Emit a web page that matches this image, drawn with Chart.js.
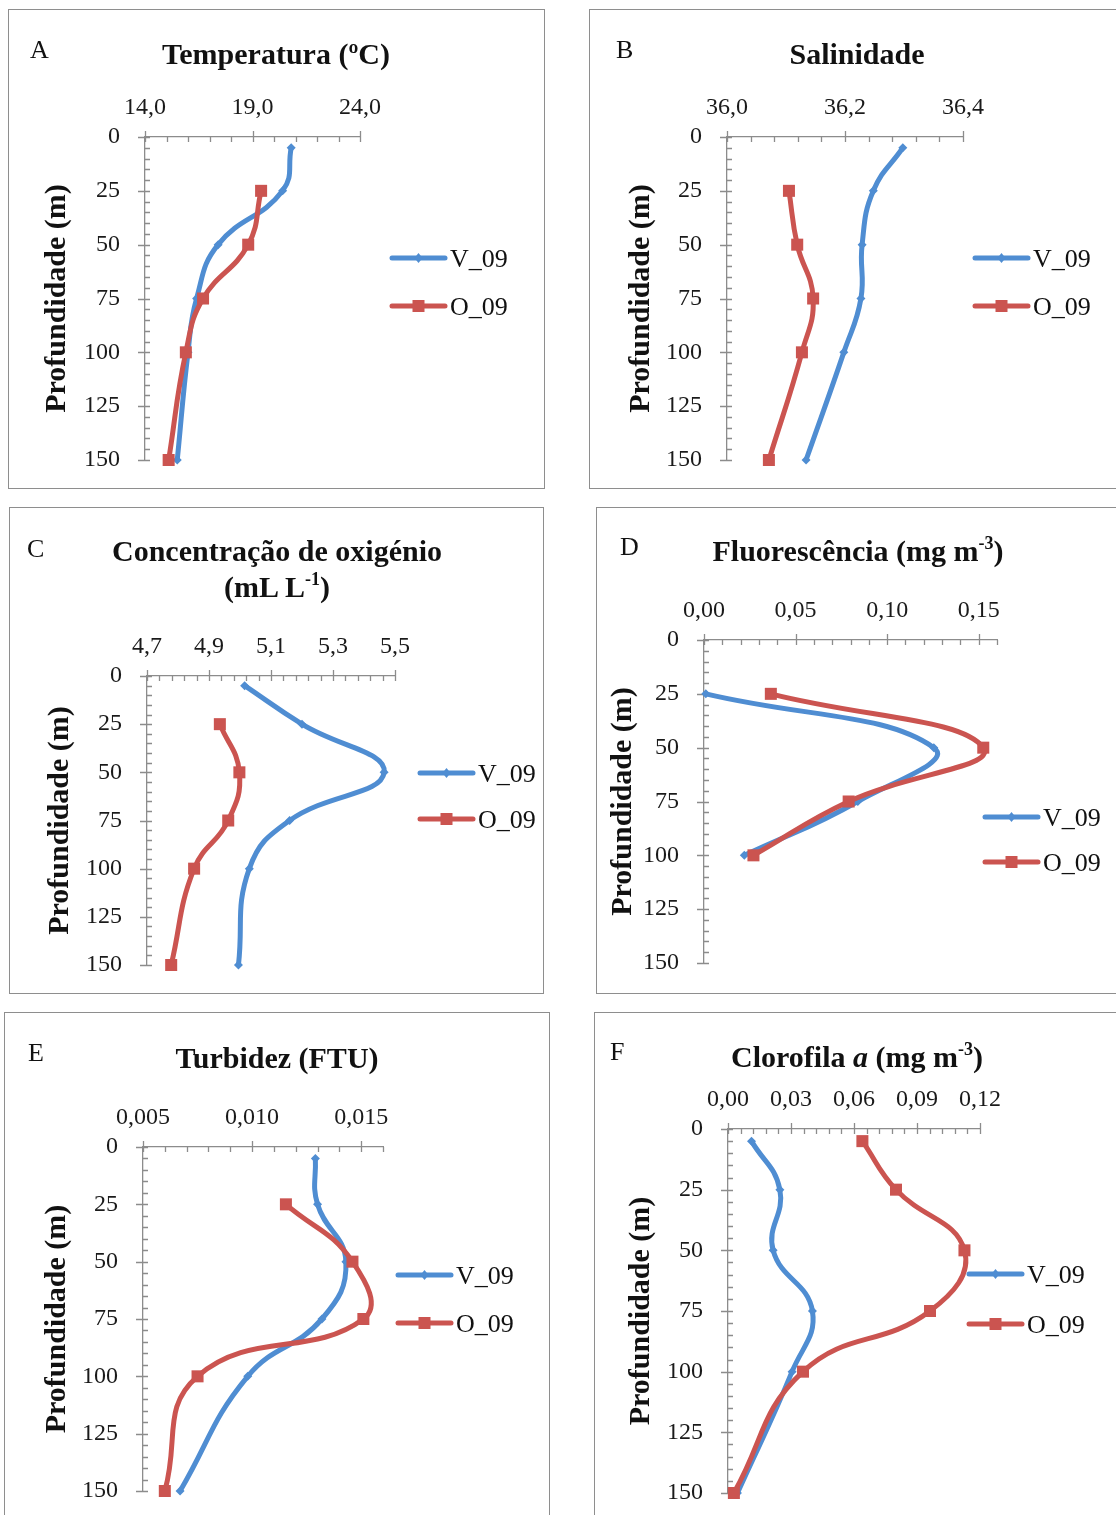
<!DOCTYPE html>
<html>
<head>
<meta charset="utf-8">
<script src="https://cdn.jsdelivr.net/npm/chart.js@4.4.1/dist/chart.umd.min.js"></script>
<style>
    html, body { margin: 0; padding: 0; background: #fff; }
    body { position: relative; width: 1116px; height: 1515px; overflow: hidden; font-family: 'Liberation Serif', 'Times New Roman', serif; color: #111; }
    .panel { position: absolute; border: 1px solid #8e8e8e; box-sizing: border-box; }
    canvas { position: absolute; }
    .letter { position: absolute; font-size: 26px; line-height: 1; transform: translateY(-50%); }
    .title { position: absolute; font-size: 30px; font-weight: bold; line-height: 36px; text-align: center; white-space: nowrap; transform: translate(-50%, -50%); }
    .title sup { font-size: 60%; vertical-align: 0; position: relative; top: -0.65em; }
</style>
</head>
<body>
<script>
// Series names and depths (m)
const seriesNames = ['V_09', 'O_09'];
const depthV = [5, 25, 50, 75, 100, 150];
const depthO = [25, 50, 75, 100, 150];
const depthFluo = [25, 50, 75, 100];
const depthChl = [5, 25, 50, 75, 100, 150];
const depthTicks = [0, 25, 50, 75, 100, 125, 150];

// A - Temperatura
const tempV = [20.8, 20.4, 17.4, 16.4, 16.0, 15.5];
const tempO = [19.4, 18.8, 16.7, 15.9, 15.1];
const tempTicks = [14, 19, 24];

// B - Salinidade
const salV = [36.298, 36.248, 36.229, 36.227, 36.198, 36.134];
const salO = [36.105, 36.119, 36.146, 36.127, 36.071];
const salTicks = [36.0, 36.2, 36.4];

// C - Oxigénio
const oxyV = [5.015, 5.20, 5.465, 5.16, 5.03, 4.995];
const oxyO = [4.935, 4.998, 4.962, 4.852, 4.778];
const oxyTicks = [4.7, 4.9, 5.1, 5.3, 5.5];

// D - Fluorescência
const fluoV = [0.001, 0.1255, 0.084, 0.022];
const fluoO = [0.0365, 0.1525, 0.079, 0.027];
const fluoTicks = [0, 0.05, 0.10, 0.15];

// E - Turbidez
const turbV = [0.0129, 0.0130, 0.0143, 0.0132, 0.0098, 0.0067];
const turbO = [0.01155, 0.0146, 0.0151, 0.0075, 0.0060];
const turbTicks = [0.005, 0.010, 0.015];

// F - Clorofila a
const chlV = [0.0112, 0.0247, 0.0215, 0.0402, 0.0305, 0.0045];
const chlO = [0.0640, 0.0800, 0.1126, 0.0962, 0.0357, 0.0028];
const chlTicks = [0, 0.03, 0.06, 0.09, 0.12];

const BLUE = '#4f8dd2';
const RED = '#cb5450';
const AXIS = '#8c8c8c';
const FONT = "'Liberation Serif', 'Times New Roman', serif";
const BOTTOM_PAD = 46; // room under the plot so the chart area ends exactly at 150 m

const panels = [
    { letter: 'A', title: 'Temperatura (ºC)', box: [8, 9, 537, 480], plot: [145, 137, 360, 460],
      letterAt: [30, 50], titleAt: [276, 54], yTitleX: 57, legend: [392, 258, 48],
      v: tempV, o: tempO, dv: depthV, dO: depthO, ticks: tempTicks, min: 14, max: 24, minor: 1, dec: 1 },
    { letter: 'B', title: 'Salinidade', box: [589, 9, 540, 480], plot: [727, 137, 963, 460],
      letterAt: [616, 50], titleAt: [857, 54], yTitleX: 641, legend: [975, 258, 48],
      v: salV, o: salO, dv: depthV, dO: depthO, ticks: salTicks, min: 36.0, max: 36.4, minor: 0.04, dec: 1 },
    { letter: 'C', title: 'Concentração de oxigénio<br>(mL L<sup>-1</sup>)', box: [9, 507, 535, 487], plot: [147, 676, 395, 965],
      letterAt: [27, 549], titleAt: [277, 571], yTitleX: 60, legend: [420, 773, 46],
      v: oxyV, o: oxyO, dv: depthV, dO: depthO, ticks: oxyTicks, min: 4.7, max: 5.5, minor: 0.04, dec: 1 },
    { letter: 'D', title: 'Fluorescência (mg m<sup>-3</sup>)', box: [596, 507, 530, 487], plot: [704, 640, 997, 963],
      letterAt: [620, 547], titleAt: [858, 553], yTitleX: 623, legend: [985, 817, 45],
      v: fluoV, o: fluoO, dv: depthFluo, dO: depthFluo, ticks: fluoTicks, min: 0, max: 0.16, minor: 0.01, dec: 2 },
    { letter: 'E', title: 'Turbidez (FTU)', box: [4, 1012, 546, 514], plot: [143, 1147, 383, 1491],
      letterAt: [28, 1053], titleAt: [277, 1058], yTitleX: 57, legend: [398, 1275, 48],
      v: turbV, o: turbO, dv: depthV, dO: depthO, ticks: turbTicks, min: 0.005, max: 0.016, minor: 0.001, dec: 3 },
    { letter: 'F', title: 'Clorofila <i>a</i> (mg m<sup>-3</sup>)', box: [594, 1012, 530, 514], plot: [728, 1129, 980, 1493],
      letterAt: [610, 1052], titleAt: [857, 1059], yTitleX: 641, legend: [969, 1274, 50],
      v: chlV, o: chlO, dv: depthChl, dO: depthChl, ticks: chlTicks, min: 0, max: 0.12, minor: 0.006, dec: 2 }
];

// tick marks in Excel style: majors cross the axis, minors point inward
const tickMarks = {
    id: 'tickMarks',
    beforeDatasetsDraw(chart, args, opts) {
        const { ctx, chartArea, scales: { x, y } } = chart;
        const isMajor = (list, v) => list.some(t => Math.abs(t - v) < 1e-9);
        ctx.save();
        ctx.strokeStyle = AXIS;
        ctx.lineWidth = 1.3;
        ctx.beginPath();
        const nx = Math.round((opts.max - opts.min) / opts.minor);
        for (let i = 0; i <= nx; i++) {
            const v = opts.min + i * opts.minor;
            const px = Math.round(x.getPixelForValue(v)) + 0.5;
            ctx.moveTo(px, chartArea.top - (isMajor(opts.ticks, v) ? 6 : 0));
            ctx.lineTo(px, chartArea.top + 5);
        }
        for (let d = 0; d <= 150; d += 5) {
            const py = Math.round(y.getPixelForValue(d)) + 0.5;
            ctx.moveTo(chartArea.left - (isMajor(depthTicks, d) ? 7 : 0), py);
            ctx.lineTo(chartArea.left + 5, py);
        }
        ctx.stroke();
        ctx.restore();
    }
};

// legend with line + marker, like the spreadsheet one
const sideLegend = {
    id: 'sideLegend',
    afterDraw(chart, args, opts) {
        const ctx = chart.ctx;
        ctx.save();
        chart.data.datasets.forEach((ds, i) => {
            const y = opts.y + i * opts.gap;
            const x = opts.x;
            ctx.strokeStyle = ds.borderColor;
            ctx.fillStyle = ds.borderColor;
            ctx.lineWidth = 5;
            ctx.lineCap = 'round';
            ctx.beginPath();
            ctx.moveTo(x, y);
            ctx.lineTo(x + 53, y);
            ctx.stroke();
            const cx = x + 26.5;
            if (ds.pointStyle === 'rect') {
                ctx.fillRect(cx - 6, y - 6, 12, 12);
            } else {
                ctx.beginPath();
                ctx.moveTo(cx, y - 5); ctx.lineTo(cx + 4, y); ctx.lineTo(cx, y + 5); ctx.lineTo(cx - 4, y);
                ctx.closePath();
                ctx.fill();
            }
            ctx.fillStyle = '#111';
            ctx.font = '26px ' + FONT;
            ctx.textBaseline = 'middle';
            ctx.fillText(ds.label, x + 58, y + 2);
        });
        ctx.restore();
    }
};

function addEl(tag, cls, left, top, html) {
    const el = document.createElement(tag);
    el.className = cls;
    el.style.left = left + 'px';
    el.style.top = top + 'px';
    if (html) el.innerHTML = html;
    document.body.appendChild(el);
    return el;
}

function makePanel(p) {
    const [bl, bt, bw, bh] = p.box;
    const [pl, pt, pr, pb] = p.plot;

    const frame = addEl('div', 'panel', bl, bt);
    frame.style.width = bw + 'px';
    frame.style.height = bh + 'px';

    const canvas = addEl('canvas', '', bl, bt);
    canvas.width = bw;
    canvas.height = (pb - bt) + BOTTOM_PAD;

    addEl('div', 'letter', p.letterAt[0], p.letterAt[1], p.letter);
    addEl('div', 'title', p.titleAt[0], p.titleAt[1], p.title);

    const yAxisW = pl - bl;
    const xAxisH = pt - bt;

    new Chart(canvas, {
        type: 'scatter',
        data: {
            datasets: [
                {
                    label: seriesNames[0],
                    data: p.dv.map((d, i) => ({ x: p.v[i], y: d })),
                    borderColor: BLUE, backgroundColor: BLUE,
                    pointBackgroundColor: BLUE, pointBorderColor: BLUE,
                    borderWidth: 5, pointStyle: 'rectRot', pointRadius: 4.5, pointBorderWidth: 0,
                    showLine: true, tension: 0.45, clip: false, order: 1
                },
                {
                    label: seriesNames[1],
                    data: p.dO.map((d, i) => ({ x: p.o[i], y: d })),
                    borderColor: RED, backgroundColor: RED,
                    pointBackgroundColor: RED, pointBorderColor: RED,
                    borderWidth: 5, pointStyle: 'rect', pointRadius: 8.5, pointBorderWidth: 0,
                    showLine: true, tension: 0.45, clip: false, order: 0
                }
            ]
        },
        options: {
            responsive: false,
            animation: false,
            events: [],
            layout: { padding: { left: 0, top: 0, right: bw - (pr - bl), bottom: BOTTOM_PAD } },
            plugins: {
                legend: { display: false },
                tooltip: { enabled: false },
                tickMarks: { ticks: p.ticks, min: p.min, max: p.max, minor: p.minor },
                sideLegend: { x: p.legend[0] - bl, y: p.legend[1] - bt, gap: p.legend[2] }
            },
            scales: {
                x: {
                    type: 'linear',
                    position: 'top',
                    min: p.min,
                    max: p.max,
                    afterFit: (s) => { s.height = xAxisH; },
                    afterBuildTicks: (s) => { s.ticks = p.ticks.map(v => ({ value: v })); },
                    grid: { display: false, drawTicks: false },
                    border: { display: true, color: AXIS, width: 1.3 },
                    ticks: {
                        padding: 15,
                        maxRotation: 0,
                        autoSkip: false,
                        color: '#1a1a1a',
                        font: { family: FONT, size: 24 },
                        callback: (v) => Number(v).toFixed(p.dec).replace('.', ',')
                    }
                },
                y: {
                    type: 'linear',
                    position: 'left',
                    reverse: true,
                    min: 0,
                    max: 150,
                    afterFit: (s) => { s.width = yAxisW; },
                    afterBuildTicks: (s) => { s.ticks = depthTicks.map(v => ({ value: v })); },
                    grid: { display: false, drawTicks: false },
                    border: { display: true, color: AXIS, width: 1.3 },
                    ticks: {
                        padding: 25,
                        autoSkip: false,
                        color: '#1a1a1a',
                        font: { family: FONT, size: 24 },
                        callback: (v) => String(v)
                    },
                    title: {
                        display: true,
                        text: 'Profundidade (m)',
                        color: '#111',
                        font: { family: FONT, size: 30, weight: 'bold', lineHeight: 1.2 },
                        padding: { top: p.yTitleX - bl - 18, bottom: 0 }
                    }
                }
            }
        },
        plugins: [tickMarks, sideLegend]
    });
}

panels.forEach(makePanel);
</script>
</body>
</html>
